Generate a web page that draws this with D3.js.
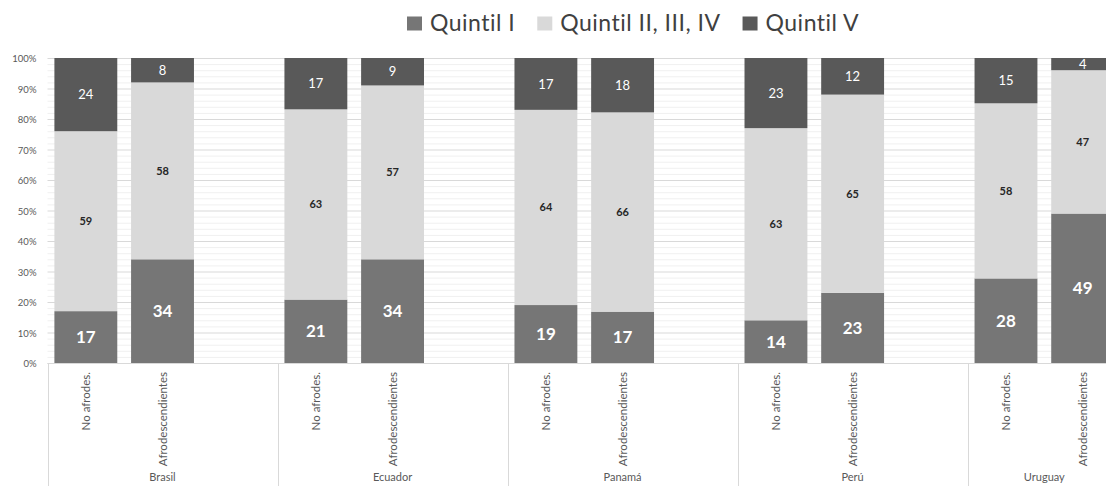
<!DOCTYPE html>
<html>
<head>
<meta charset="utf-8">
<script src="https://cdn.jsdelivr.net/npm/d3@7/dist/d3.min.js"></script>
<style>
  html, body { margin: 0; padding: 0; background: #ffffff; }
  svg { display: block; font-family: Lato, "Liberation Sans", sans-serif; }
</style>
</head>
<body>
<svg id="chart" width="1106" height="486"></svg>
<script>
// Countries (outer axis level) and population groups (inner level)
const countries = ["Brasil", "Ecuador", "Panamá", "Perú", "Uruguay"];
const groups = ["No afrodes.", "Afrodescendientes"];

// Series names, in stacking order from the bottom
const seriesNames = ["Quintil I", "Quintil II, III, IV", "Quintil V"];

// Values per bar, ordered country by country: No afrodes., Afrodescendientes
const quintilI   = [17, 34, 21, 34, 19, 17, 14, 23, 28, 49];
const quintilMid = [59, 58, 63, 57, 64, 66, 63, 65, 58, 47];
const quintilV   = [24,  8, 17,  9, 17, 18, 23, 12, 15,  4];

// Percent axis ticks
const majorTicks = [0, 10, 20, 30, 40, 50, 60, 70, 80, 90, 100];
const minorTicks = d3.range(0, 101, 2);

const colors = ["#767676", "#d9d9d9", "#595959"];
const labelColors = ["#ffffff", "#262626", "#ffffff"];

// One row per bar
const rows = [];
countries.forEach((c, i) => {
  groups.forEach((g, j) => {
    const k = i * groups.length + j;
    rows.push({
      key: c + "|" + g, country: c, group: g,
      "Quintil I": quintilI[k],
      "Quintil II, III, IV": quintilMid[k],
      "Quintil V": quintilV[k]
    });
  });
});

// Category slots: each country keeps an empty slot after its bars, except the last
const slots = [];
countries.forEach((c, i) => {
  groups.forEach(g => slots.push(c + "|" + g));
  if (i < countries.length - 1) slots.push(c + "|");
});

const svg = d3.select("#chart");
const plotLeft = 47.5, plotRight = 1121, plotTop = 58, plotBottom = 363;

const x = d3.scaleBand()
  .domain(slots)
  .range([plotLeft, plotRight])
  .paddingInner(0.18)
  .paddingOuter(0.09);

const y = d3.scaleLinear().domain([0, 1]).range([plotBottom, plotTop]);
const yPct = d3.scaleLinear().domain([0, 100]).range([plotBottom, plotTop]);

// Minor and major gridlines
svg.append("g").selectAll("line")
  .data(minorTicks.filter(t => t % 10 !== 0))
  .join("line")
  .attr("x1", plotLeft).attr("x2", plotRight)
  .attr("y1", d => yPct(d) + 0.5).attr("y2", d => yPct(d) + 0.5)
  .attr("stroke", "#f0f0f0").attr("stroke-width", 1);

svg.append("g").selectAll("line")
  .data(majorTicks)
  .join("line")
  .attr("x1", plotLeft).attr("x2", plotRight)
  .attr("y1", d => yPct(d) + 0.5).attr("y2", d => yPct(d) + 0.5)
  .attr("stroke", "#d9d9d9").attr("stroke-width", 1);

// Y axis labels
const yAxis = d3.axisLeft(yPct)
  .tickValues(majorTicks)
  .tickFormat(d => d + "%")
  .tickSize(0)
  .tickPadding(11);
const yg = svg.append("g").attr("transform", `translate(${plotLeft},0.5)`).call(yAxis);
yg.select(".domain").remove();
yg.selectAll("text")
  .attr("fill", "#595959")
  .style("font-size", "9.5px")
  .style("font-family", "Lato, sans-serif");

// Stacked bars, normalised to 100%
const stack = d3.stack().keys(seriesNames).offset(d3.stackOffsetExpand);
const stacked = stack(rows);

const layers = svg.append("g").selectAll("g")
  .data(stacked)
  .join("g")
  .attr("fill", (d, i) => colors[i]);

layers.selectAll("rect")
  .data(d => d)
  .join("rect")
  .attr("x", d => x(d.data.key))
  .attr("width", x.bandwidth())
  .attr("y", d => y(d[1]))
  .attr("height", d => y(d[0]) - y(d[1]));

// Value labels inside each segment
const labelStyles = [
  { size: 17, weight: 700 },
  { size: 11, weight: 700 },
  { size: 13, weight: 400 }
];
stacked.forEach((layer, i) => {
  svg.append("g").selectAll("text")
    .data(layer)
    .join("text")
    .attr("x", d => x(d.data.key) + x.bandwidth() / 2)
    .attr("y", d => (y(d[0]) + y(d[1])) / 2)
    .attr("dy", "0.36em")
    .attr("text-anchor", "middle")
    .attr("fill", labelColors[i])
    .style("font-size", labelStyles[i].size + "px")
    .style("font-weight", labelStyles[i].weight)
    .text(d => d.data[layer.key]);
});

// Category axis: baseline and country separators
const axisColor = "#d9d9d9";
svg.append("line")
  .attr("x1", plotLeft).attr("x2", plotRight)
  .attr("y1", plotBottom + 0.5).attr("y2", plotBottom + 0.5)
  .attr("stroke", axisColor);

const countryStart = c => x(slots.find(s => s.startsWith(c + "|"))) - x.step() * x.paddingInner() / 2;
const bounds = countries.map(countryStart).concat([plotRight]);
bounds[0] = plotLeft;

svg.append("g").selectAll("line")
  .data(bounds)
  .join("line")
  .attr("x1", d => Math.round(d) + 0.5).attr("x2", d => Math.round(d) + 0.5)
  .attr("y1", plotBottom).attr("y2", 486)
  .attr("stroke", axisColor);

// Inner category labels, rotated
svg.append("g").selectAll("text")
  .data(rows)
  .join("text")
  .attr("transform", d => `translate(${x(d.key) + x.bandwidth() / 2},372) rotate(-90)`)
  .attr("text-anchor", "end")
  .attr("dy", "0.35em")
  .attr("fill", "#595959")
  .style("font-size", "11.5px")
  .text(d => d.group);

// Country labels
svg.append("g").selectAll("text")
  .data(countries)
  .join("text")
  .attr("x", (d, i) => (bounds[i] + bounds[i + 1]) / 2)
  .attr("y", 481)
  .attr("text-anchor", "middle")
  .attr("fill", "#595959")
  .style("font-size", "11px")
  .text(d => d);

// Legend
const legend = svg.append("g").attr("transform", "translate(407,0)");
let lx = 0;
seriesNames.forEach((name, i) => {
  const item = legend.append("g").attr("transform", `translate(${lx},0)`);
  item.append("rect")
    .attr("x", 0).attr("y", 16.5)
    .attr("width", 15).attr("height", 14)
    .attr("fill", colors[i]);
  const t = item.append("text")
    .attr("x", 23).attr("y", 31)
    .attr("fill", "#404040")
    .style("font-size", "23px")
    .style("letter-spacing", "0.5px")
    .text(name);
  lx += 23 + t.node().getComputedTextLength() + 22;
});
</script>
</body>
</html>
